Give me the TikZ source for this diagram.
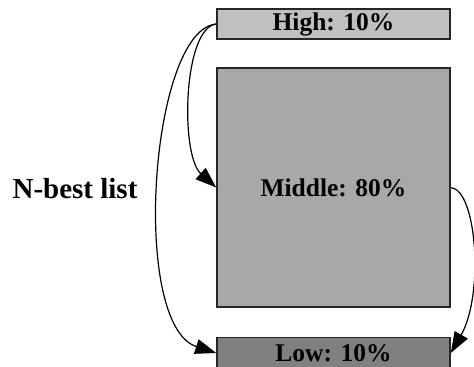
\documentclass[tikz,border=0pt]{standalone}
\usepackage{fontspec}
\setmainfont{Liberation Serif}
\usetikzlibrary{arrows.meta}

\definecolor{highgray}{HTML}{C0C0C0}
\definecolor{midgray}{HTML}{A8A8A8}
\definecolor{lowgray}{HTML}{808080}

\tikzset{
    band/.style={draw=black!85, line width=0.8pt, inner sep=0pt,
        minimum width=116.5pt, font=\fontsize{12.75}{15}\selectfont\bfseries},
    flow/.style={line width=0.6pt, -{Triangle[length=10.5pt,width=7.5pt]}}
}

\begin{document}
\begin{tikzpicture}[x=0.5pt, y=-0.5pt]
    \useasboundingbox (0,0) rectangle (474,366);

    % Score bands of the list
    \node[band, fill=highgray, minimum height=15pt] (high) at (333.5,24) {High: 10\%};
    \node[band, fill=midgray, minimum height=119.5pt] (middle) at (333.5,187.5) {Middle: 80\%};
    \node[band, fill=lowgray, minimum height=15.5pt] (low) at (333.5,353) {Low: 10\%};

    % Side label
    \node[font=\fontsize{14.5}{17}\selectfont\bfseries] (nbest) at (75,189) {N-best list};

    % Moves between bands
    \draw[flow] (high.west) .. controls (183,28) and (180,155) .. (middle.west);
    \draw[flow] (high.west) .. controls (150,30) and (130,325) .. (low.west);
    \draw[flow] (middle.east) .. controls (477,190) and (484,295) .. (low.east);
\end{tikzpicture}
\end{document}
